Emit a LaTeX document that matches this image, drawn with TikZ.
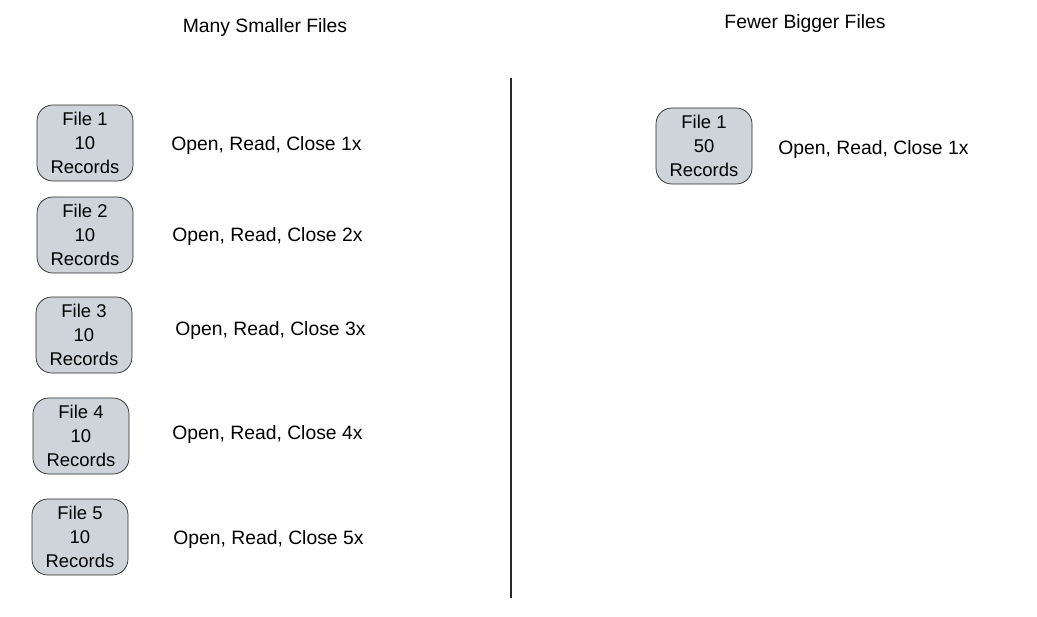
\documentclass[tikz,border=0pt]{standalone}
\usepackage{fontspec}
\setmainfont{Liberation Sans}
\usepackage{tikz}
\usetikzlibrary{positioning}
\definecolor{cFile}{RGB}{206,212,218}
\definecolor{cLine}{RGB}{40,40,40}
\tikzset{
	filebox/.style={rectangle, rounded corners=9pt, draw=cLine, fill=cFile, minimum width=1.92cm, minimum height=1.52cm, align=center, inner sep=1pt, font=\fontsize{10.5}{13.5}\selectfont},
	ops/.style    ={anchor=west, inner sep=0pt, font=\fontsize{11}{13}\selectfont},
	title/.style  ={inner sep=0pt, font=\fontsize{11}{13}\selectfont},
}
\begin{document}
\begin{tikzpicture}[x=0.02cm, y=-0.02cm]
	\useasboundingbox (0,0) rectangle (1037,616);
	% titles
	\node[title] (tsmall) at (265,27) {Many Smaller Files};
	\node[title] (tbig) at (805,23) {Fewer Bigger Files};
	% divider
	\coordinate (dtop) at (511,78);
	\coordinate (dbot) at (511,598);
	\draw[cLine, line width=1.2pt] (dtop) -- (dbot);
	% many small files
	\foreach \i/\x/\y/\lx/\ly in {1/85/143/171/145, 2/85/235/172/236, 3/84/335/175/330, 4/81/436/172/434, 5/80/537/173/539}{
		\node[filebox] (f\i) at (\x,\y) {File \i\\10\\Records};
		\node[ops] (ops\i) at (\lx,\ly) {Open, Read, Close \i x};
	}
	% one big file
	\node[filebox] (big) at (704,146) {File 1\\50\\Records};
	\node[ops] (bigops) at (778,149) {Open, Read, Close 1x};
\end{tikzpicture}
\end{document}
